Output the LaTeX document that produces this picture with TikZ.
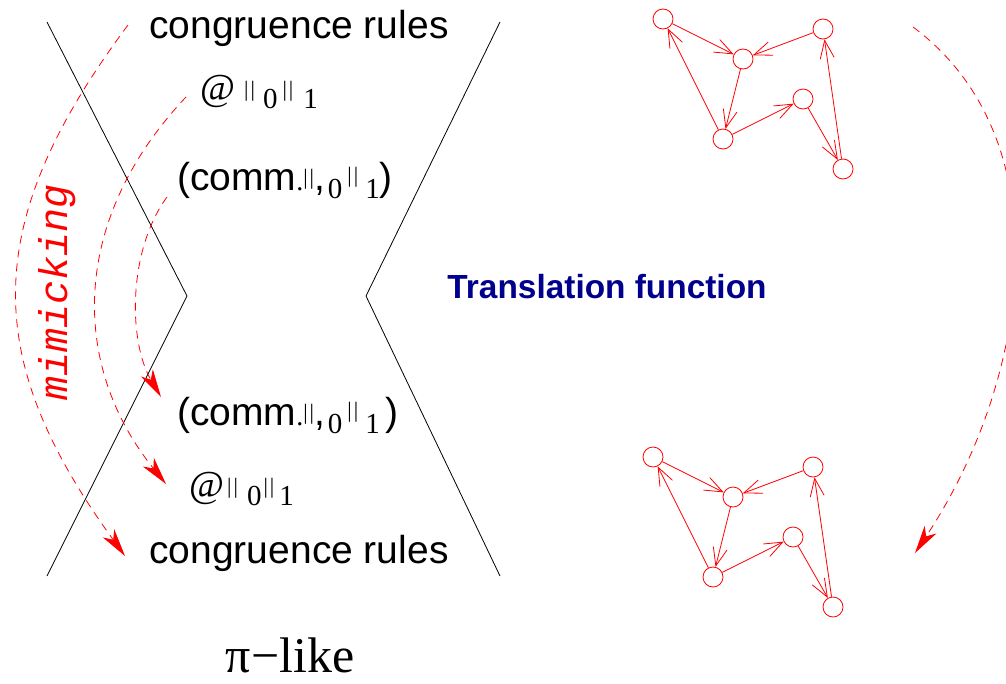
\documentclass[tikz,border=0pt]{standalone}
\usepackage{fontspec}
\setmainfont{Liberation Serif}
\setsansfont{Liberation Sans}
\setmonofont{Liberation Mono}
\usetikzlibrary{arrows.meta}
\definecolor{navyblue}{RGB}{0,0,140}
\newcommand{\vb}[1]{\raisebox{#1}{\fontsize{22}{22}\selectfont|\kern2pt|}}
\newcommand{\sbs}[1]{\raisebox{-8pt}{\fontsize{29}{29}\selectfont #1}}
\newcommand{\hv}[1]{{\sffamily\fontsize{39}{39}\selectfont #1}}
\begin{document}
\begin{tikzpicture}[x=1pt,y=-1pt,
  wall/.style={black, line width=0.8pt},
  mimic/.style={red, line width=0.8pt, dash pattern=on 8pt off 6pt,
    -{Stealth[length=28pt,width=14pt,inset=8pt]}},
  gnode/.style={circle, draw=red, line width=0.8pt, minimum size=20pt, inner sep=0pt},
  gedge/.style={red, line width=0.8pt, -{Straight Barb[length=18pt,width=14pt]}},
  lab/.style={inner sep=0pt, anchor=base},
  labw/.style={inner sep=0pt, anchor=base west}]
\useasboundingbox (0,0) rectangle (1006,683);

% walls
\coordinate (lt) at (47,22);  \coordinate (la) at (187,296); \coordinate (lb) at (47,576);
\coordinate (rt) at (500,22); \coordinate (ra) at (366,296); \coordinate (rb) at (500,576);
\draw[wall] (lt) -- (la) -- (lb);
\draw[wall] (rt) -- (ra) -- (rb);

% texts
\node[lab] (ctop) at (299,38) {\hv{congruence rules}};
\node[lab] (cbot) at (299,563) {\hv{congruence rules}};
\node[labw] (attop) at (200,100) {{\fontsize{38}{38}\selectfont @}\kern9pt\vb{4pt}\kern8pt\sbs{0}\kern5pt\vb{4pt}\kern10pt\sbs{1}};
\node[labw] (atbot) at (189,497) {{\fontsize{38}{38}\selectfont @}\kern3pt\vb{4pt}\kern9pt\sbs{0}\kern2pt\vb{4pt}\kern5pt\sbs{1}};
\node[labw] (cmtop) at (177,190) {\hv{(comm}{\fontsize{28}{28}\selectfont .}\vb{6pt}\hv{,}\kern3pt\sbs{0}\kern5pt\vb{8pt}\kern7pt\sbs{1}\hv{)}};
\node[labw] (cmbot) at (177,425) {\hv{(comm}{\fontsize{28}{28}\selectfont .}\vb{6pt}\hv{,}\kern3pt\sbs{0}\kern5pt\vb{8pt}\kern7pt\sbs{1}\kern6pt\hv{)}};
\node[lab] (pi) at (290,672) {\fontsize{50}{50}\selectfont π−like};
\node[rotate=90, text=red, inner sep=0pt] (mim) at (57,292) {\ttfamily\itshape\fontsize{40}{40}\selectfont mimicking};
\node[inner sep=0pt, text=navyblue] (tf) at (607,287) {\sffamily\bfseries\fontsize{33.4}{33.4}\selectfont Translation function};

% mimicking arcs
\coordinate (m1s) at (128,25);  \coordinate (m1e) at (125,556);
\coordinate (m2s) at (186,97);  \coordinate (m2e) at (166,484);
\coordinate (m3s) at (167,197); \coordinate (m3e) at (161,397);
\draw[mimic] (m1s) .. controls (-19.5,223) and (-19.5,357) .. (m1e);
\draw[mimic] (m2s) .. controls (70,220) and (70,365) .. (m2e);
\draw[mimic] (m3s) .. controls (128,250) and (128,341) .. (m3e);

% right arc
\coordinate (rs) at (913,27); \coordinate (re) at (915,553);
\draw[mimic] (rs) .. controls (1065,140) and (1030,380) .. (re);

% top graph
\node[gnode] (t1) at (663,19) {};
\node[gnode] (t2) at (743,59) {};
\node[gnode] (t3) at (823,29) {};
\node[gnode] (t4) at (723,139) {};
\node[gnode] (t5) at (803,99) {};
\node[gnode] (t6) at (843,169) {};
\draw[gedge] (t1) -- (t2);
\draw[gedge] (t3) -- (t2);
\draw[gedge] (t2) -- (t4);
\draw[gedge] (t4) -- (t1);
\draw[gedge] (t4) -- (t5);
\draw[gedge] (t5) -- (t6);
\draw[gedge] (t6) -- (t3);

% bottom graph
\node[gnode] (b1) at (653,457) {};
\node[gnode] (b2) at (733,497) {};
\node[gnode] (b3) at (813,467) {};
\node[gnode] (b4) at (713,577) {};
\node[gnode] (b5) at (793,537) {};
\node[gnode] (b6) at (833,607) {};
\draw[gedge] (b1) -- (b2);
\draw[gedge] (b3) -- (b2);
\draw[gedge] (b2) -- (b4);
\draw[gedge] (b4) -- (b1);
\draw[gedge] (b4) -- (b5);
\draw[gedge] (b5) -- (b6);
\draw[gedge] (b6) -- (b3);
\end{tikzpicture}
\end{document}
